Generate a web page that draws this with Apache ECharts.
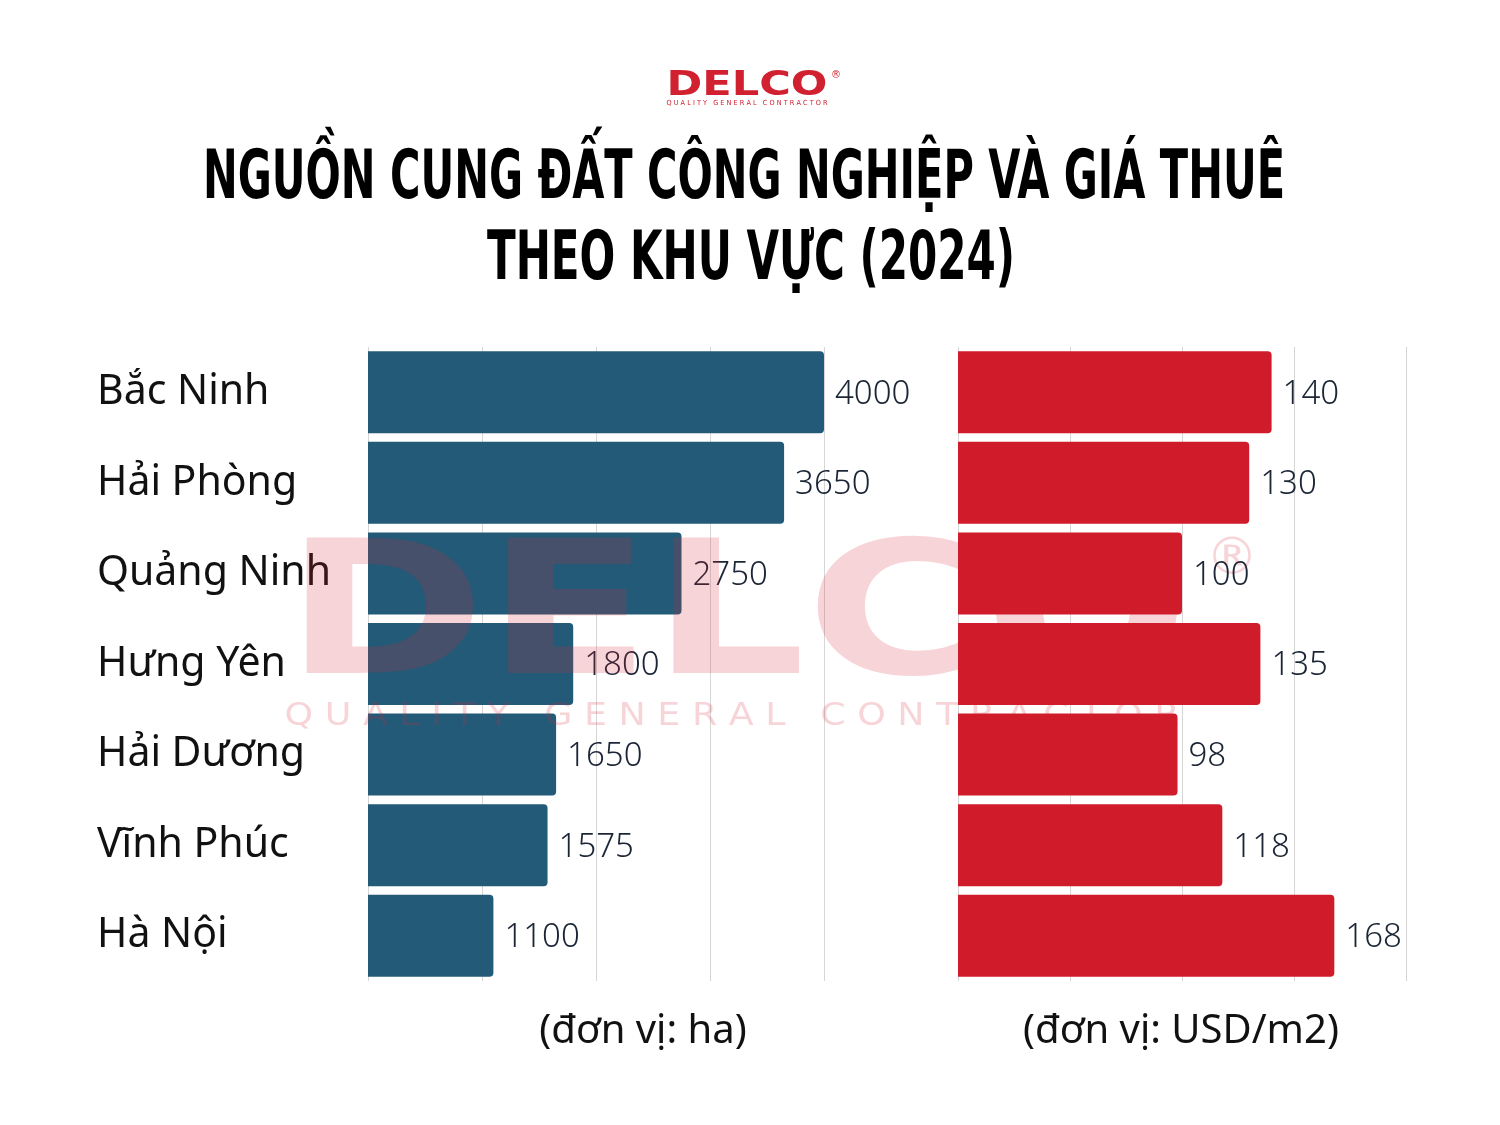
<!DOCTYPE html>
<html><head><meta charset="utf-8">
<script src="https://cdn.jsdelivr.net/npm/echarts@6/dist/echarts.min.js"></script>
<style>html,body{margin:0;padding:0;background:#fff}#c{width:1500px;height:1125px}</style>
</head><body><div id="c"></div>
<script>
const categories = ['Bắc Ninh','Hải Phòng','Quảng Ninh','Hưng Yên','Hải Dương','Vĩnh Phúc','Hà Nội'];
const landSupplyHa = [4000,3650,2750,1800,1650,1575,1100];
const rentUsdM2 = [140,130,100,135,98,118,168];
const titleLines = ['NGUỒN CUNG ĐẤT CÔNG NGHIỆP VÀ GIÁ THUÊ','THEO KHU VỰC (2024)'];
const unitLabels = ['(đơn vị: ha)','(đơn vị: USD/m2)'];
const brandName = 'DELCO';
const brandTagline = 'QUALITY GENERAL CONTRACTOR';

const ctx = document.createElement('canvas').getContext('2d');
function measure(text, size, family, weight){ ctx.font = weight + ' ' + size + 'px ' + family; return ctx.measureText(text).width; }
function fitText(text, size, family, weight, targetW, x, y, color, z){
  const s = targetW / measure(text, size, family, weight);
  return {type:'text', x:x, y:y, scaleX:s, z:z, style:{text:text, x:0, y:0, align:'center', verticalAlign:'middle', fontSize:size, fontFamily:family, fontWeight:weight, fill:color}};
}
function spaced(t){ return t.split('').join(' '); }

const titleFamily = '"Liberation Sans Narrow","DejaVu Sans Condensed","DejaVu Sans"';
const wmColor = 'rgba(215,40,55,0.2)';
const bodyFont = '"Noto Sans", "Open Sans", sans-serif';

const graphic = [
  fitText(brandName, 34, '"DejaVu Sans"', 'bold', 161, 747, 86, '#d1202f', 10),
  {type:'text', x:836, y:75, z:10, style:{text:'®', align:'center', verticalAlign:'middle', fontSize:10, fontFamily:'DejaVu Sans', fill:'#d1202f'}},
  fitText(spaced(brandTagline), 7, '"DejaVu Sans"', 'normal', 161, 747, 103, '#d1202f', 10),
  fitText(titleLines[0], 68, titleFamily, 'bold', 1082, 744, 180, '#000', 10),
  fitText(titleLines[1], 68, titleFamily, 'bold', 528, 751, 261, '#000', 10),
  fitText(brandName, 185, '"DejaVu Sans"', 'bold', 905, 737, 625, wmColor, 3),
  {type:'text', x:1232, y:560, z:3, style:{text:'®', align:'center', verticalAlign:'middle', fontSize:52, fontFamily:'DejaVu Sans', fill:wmColor}},
  fitText(spaced(brandTagline), 32, '"DejaVu Sans"', 'normal', 895, 732, 717, wmColor, 3),
  {type:'text', x:643, y:1032, z:10, style:{text:unitLabels[0], align:'center', verticalAlign:'middle', fontSize:40, fontFamily:bodyFont, fill:'#111'}},
  {type:'text', x:1181, y:1032, z:10, style:{text:unitLabels[1], align:'center', verticalAlign:'middle', fontSize:40, fontFamily:bodyFont, fill:'#111'}}
];

const valueLabel = {show:true, position:'right', distance:11, fontSize:33, color:'#1b2535', fontFamily:bodyFont, fontWeight:300, offset:[0,2]};
const hiddenAxis = {axisLine:{show:false}, axisTick:{show:false}};
const chart = echarts.init(document.getElementById('c'));
chart.setOption({
  animation:false,
  backgroundColor:'#fff',
  graphic: graphic,
  grid:[
    {left:368, width:456, top:347, height:634, outerBoundsMode:'none', containLabel:false},
    {left:958, width:448, top:347, height:634, outerBoundsMode:'none', containLabel:false}
  ],
  xAxis:[
    Object.assign({gridIndex:0, type:'value', min:0, max:4000, interval:1000, axisLabel:{show:false}, splitLine:{show:true, lineStyle:{color:'#d6d6d6', width:1}}}, hiddenAxis),
    Object.assign({gridIndex:1, type:'value', min:0, max:200, interval:50, axisLabel:{show:false}, splitLine:{show:true, lineStyle:{color:'#d6d6d6', width:1}}}, hiddenAxis)
  ],
  yAxis:[
    Object.assign({gridIndex:0, type:'category', data:categories, inverse:true, axisLabel:{align:'left', margin:271, fontSize:41, color:'#111', fontFamily:bodyFont, interval:0}}, hiddenAxis),
    Object.assign({gridIndex:1, type:'category', data:categories, inverse:true, axisLabel:{show:false}}, hiddenAxis)
  ],
  series:[
    {type:'bar', xAxisIndex:0, yAxisIndex:0, data:landSupplyHa, barWidth:82, z:2, itemStyle:{color:'#235a77', borderRadius:[0,4,4,0]}, label:valueLabel},
    {type:'bar', xAxisIndex:1, yAxisIndex:1, data:rentUsdM2, barWidth:82, z:5, itemStyle:{color:'#d01c2a', borderRadius:[0,4,4,0]}, label:valueLabel}
  ]
});
</script></body></html>
